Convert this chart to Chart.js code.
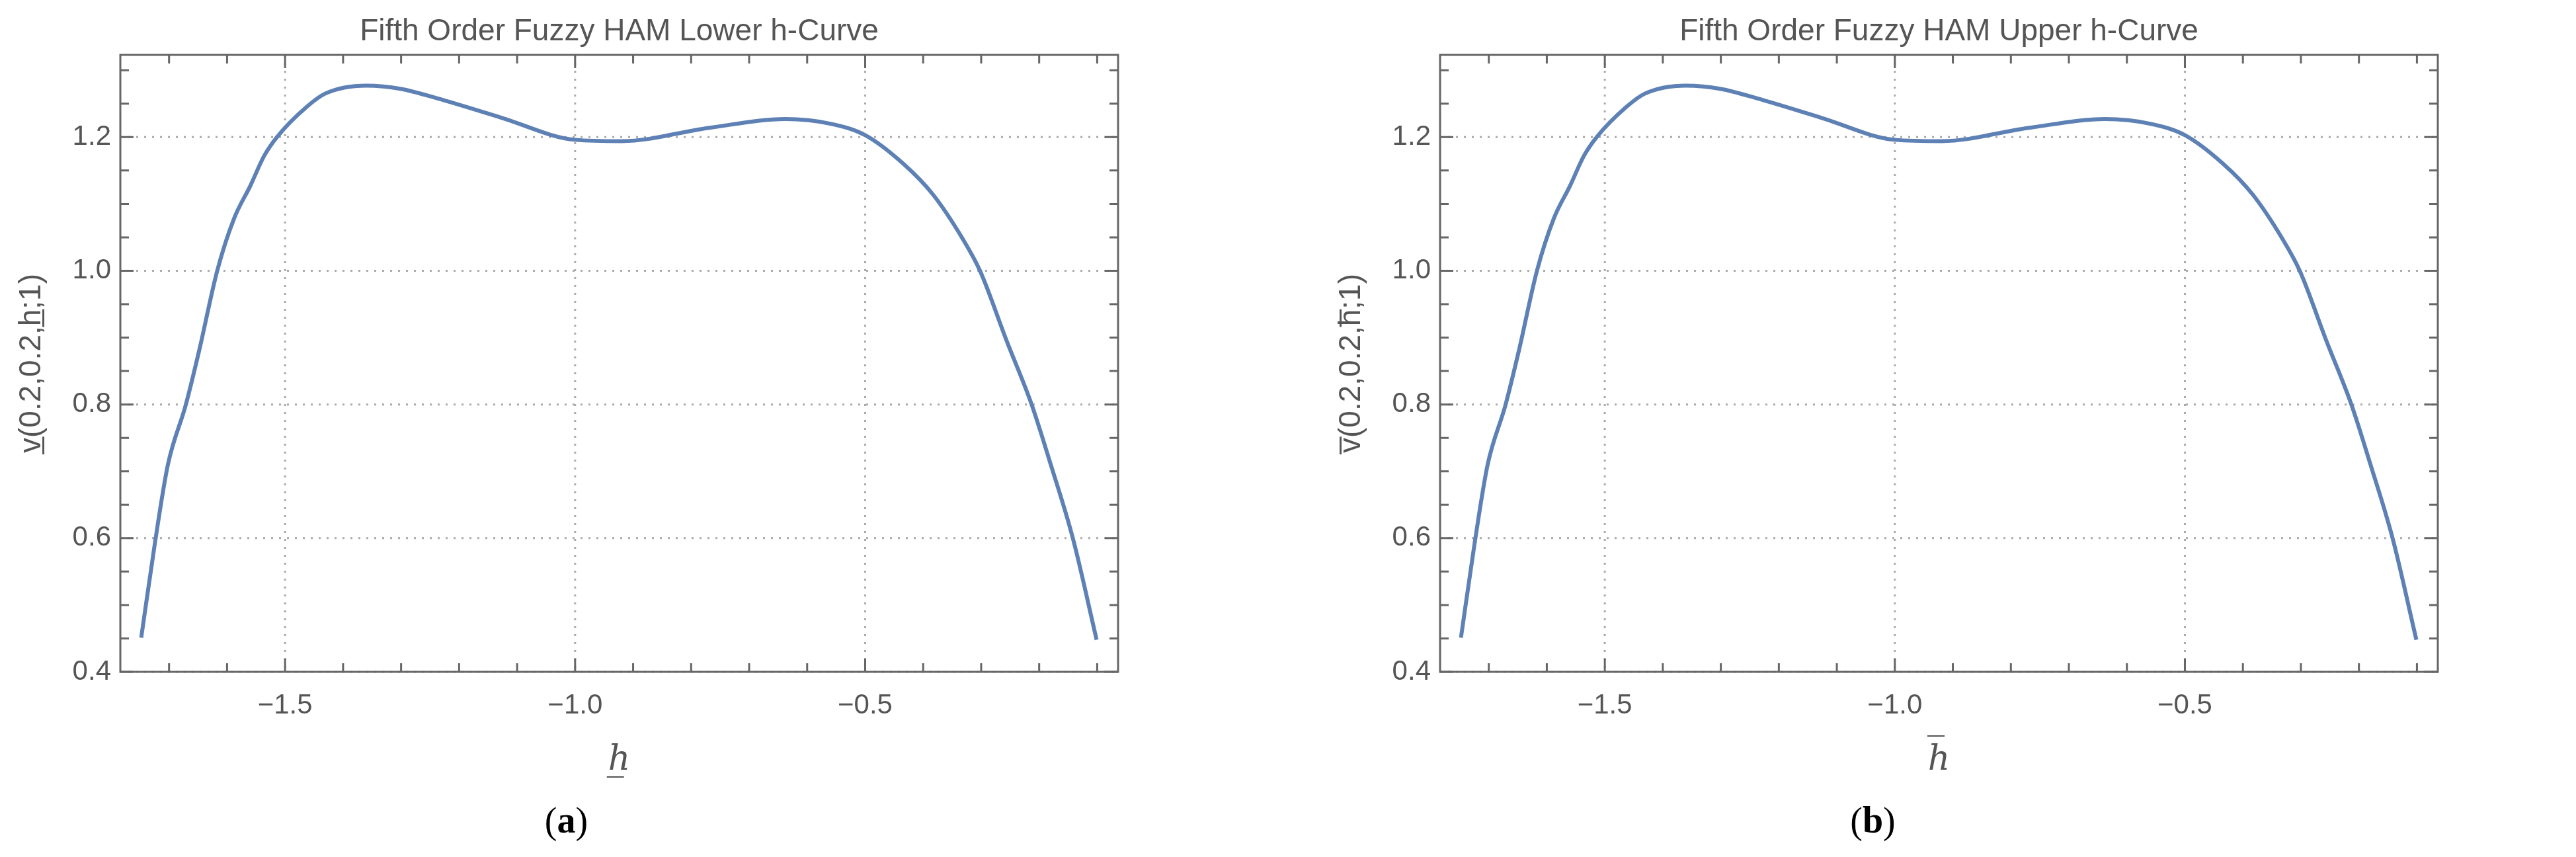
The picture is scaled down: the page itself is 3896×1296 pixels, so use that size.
<!DOCTYPE html>
<html>
<head>
<meta charset="utf-8">
<script src="https://cdn.jsdelivr.net/npm/chart.js@4.4.0/dist/chart.umd.min.js"></script>
<style>
  body { margin: 0; background: #fff; width: 3896px; height: 1296px; position: relative; overflow: hidden; }
  .panel { position: absolute; top: 0; width: 1900px; height: 1296px; }
</style>
</head>
<body>
<div class="panel" style="left:0"><canvas id="lowerChart" width="1900" height="1296"></canvas></div>
<div class="panel" style="left:1996px"><canvas id="upperChart" width="1900" height="1296"></canvas></div>
<script>
// Data
const hValues = [-1.748, -1.724, -1.702, -1.671, -1.648, -1.617, -1.588, -1.56, -1.536, -1.514, -1.463, -1.431, -1.36, -1.3, -1.238, -1.127, -1.0, -0.92, -0.768, -0.637, -0.56, -0.5, -0.434, -0.383, -0.332, -0.302, -0.256, -0.213, -0.18, -0.142, -0.101];
const lowerValues = [0.451, 0.595, 0.71, 0.8, 0.881, 1.0, 1.078, 1.127, 1.172, 1.2, 1.245, 1.265, 1.277, 1.272, 1.258, 1.229, 1.196, 1.194, 1.214, 1.227, 1.22, 1.203, 1.16, 1.114, 1.048, 1.0, 0.895, 0.8, 0.71, 0.6, 0.448];
const upperValues = [0.451, 0.595, 0.71, 0.8, 0.881, 1.0, 1.078, 1.127, 1.172, 1.2, 1.245, 1.265, 1.277, 1.272, 1.258, 1.229, 1.196, 1.194, 1.214, 1.227, 1.22, 1.203, 1.16, 1.114, 1.048, 1.0, 0.895, 0.8, 0.71, 0.6, 0.448];
const xTicks = [-1.5, -1.0, -0.5];
const yTicks = [0.4, 0.6, 0.8, 1.0, 1.2];

const lineColor = '#5E81B5';
const textColor = '#555555';

// Frame, dotted grid, mirrored ticks and the extra labels
const framePlugin = {
  id: 'frame',
  beforeDatasetsDraw(chart, args, opts) {
    const { ctx, chartArea: a, scales: { x, y } } = chart;
    ctx.save();
    ctx.strokeStyle = '#aaaaaa';
    ctx.lineWidth = 3;
    ctx.setLineDash([3, 9]);
    xTicks.forEach(v => {
      const px = x.getPixelForValue(v);
      ctx.beginPath(); ctx.moveTo(px, a.top); ctx.lineTo(px, a.bottom); ctx.stroke();
    });
    yTicks.forEach(v => {
      const py = y.getPixelForValue(v);
      ctx.beginPath(); ctx.moveTo(a.left, py); ctx.lineTo(a.right, py); ctx.stroke();
    });
    ctx.restore();
  },
  afterDraw(chart, args, opts) {
    const { ctx, chartArea: a, scales: { x, y } } = chart;
    ctx.save();
    ctx.strokeStyle = '#666666';
    ctx.lineWidth = 3;
    ctx.setLineDash([]);
    ctx.strokeRect(a.left, a.top, a.right - a.left, a.bottom - a.top);
    // x ticks every 0.1, bigger at 0.5
    for (let i = -17; i <= -1; i++) {
      const px = x.getPixelForValue(i / 10);
      const len = (i % 5 === 0) ? 20 : 13;
      ctx.beginPath();
      ctx.moveTo(px, a.bottom); ctx.lineTo(px, a.bottom - len);
      ctx.moveTo(px, a.top); ctx.lineTo(px, a.top + len);
      ctx.stroke();
    }
    // y ticks every 0.05
    for (let i = 8; i <= 26; i++) {
      const py = y.getPixelForValue(i / 20);
      const len = (i % 4 === 0) ? 20 : 13;
      ctx.beginPath();
      ctx.moveTo(a.left, py); ctx.lineTo(a.left + len, py);
      ctx.moveTo(a.right, py); ctx.lineTo(a.right - len, py);
      ctx.stroke();
    }
    const cx = (a.left + a.right) / 2;
    ctx.fillStyle = textColor;
    ctx.textAlign = 'center';
    ctx.textBaseline = 'middle';
    ctx.font = '46px "Liberation Sans", Arial, sans-serif';
    ctx.fillText(opts.title, cx, 48);
    ctx.font = 'italic 52px "DejaVu Serif", serif';
    ctx.fillText(opts.xLabel, cx, 1150);
    ctx.save();
    ctx.translate(opts.yLabelX, (a.top + a.bottom) / 2);
    ctx.rotate(-Math.PI / 2);
    ctx.font = '46px "Liberation Sans", Arial, sans-serif';
    ctx.fillText(opts.yLabel, 0, 0);
    ctx.restore();
    // caption "(a)" with bold letter
    ctx.fillStyle = '#000';
    ctx.textAlign = 'left';
    const capX = cx + opts.captionShift;
    ctx.font = '56px "Liberation Serif", serif';
    const wOpen = ctx.measureText('(').width;
    const wClose = ctx.measureText(')').width;
    ctx.font = 'bold 56px "Liberation Serif", serif';
    const wL = ctx.measureText(opts.caption).width;
    const sx = capX - (wOpen + wL + wClose) / 2;
    ctx.font = '56px "Liberation Serif", serif';
    ctx.fillText('(', sx, 1245);
    ctx.fillText(')', sx + wOpen + wL, 1245);
    ctx.font = 'bold 56px "Liberation Serif", serif';
    ctx.fillText(opts.caption, sx + wOpen, 1245);
    ctx.restore();
  }
};

function makeChart(id, values, frameOpts) {
  return new Chart(document.getElementById(id).getContext('2d'), {
    type: 'line',
    data: {
      datasets: [{
        data: hValues.map((h, i) => ({ x: h, y: values[i] })),
        borderColor: lineColor,
        borderWidth: 6,
        pointRadius: 0,
        cubicInterpolationMode: 'monotone',
        fill: false
      }]
    },
    options: {
      responsive: false,
      animation: false,
      layout: { padding: { top: 83, right: 209, left: 0, bottom: 0 } },
      plugins: { legend: { display: false }, tooltip: { enabled: false }, frame: frameOpts },
      scales: {
        x: {
          type: 'linear',
          min: -1.784,
          max: -0.064,
          afterBuildTicks: s => { s.ticks = xTicks.map(v => ({ value: v })); },
          afterFit: s => { s.height = 280; },
          grid: { display: false, drawTicks: false },
          border: { display: false },
          ticks: {
            padding: 26,
            color: textColor,
            font: { size: 42, family: '"Liberation Sans", Arial, sans-serif' },
            callback: v => (v < 0 ? '\u2212' : '') + Math.abs(v).toFixed(1)
          }
        },
        y: {
          min: 0.4,
          max: 1.323,
          afterBuildTicks: s => { s.ticks = yTicks.map(v => ({ value: v })); },
          afterFit: s => { s.width = 182; },
          grid: { display: false, drawTicks: false },
          border: { display: false },
          ticks: {
            padding: 14,
            color: textColor,
            font: { size: 42, family: '"Liberation Sans", Arial, sans-serif' },
            callback: v => v.toFixed(1)
          }
        }
      }
    },
    plugins: [framePlugin]
  });
}

makeChart('lowerChart', lowerValues, {
  title: 'Fifth Order Fuzzy HAM Lower h-Curve',
  xLabel: 'h\u0332',
  yLabel: 'v\u0332(0.2,0.2,h\u0332;1)',
  yLabelX: 48,
  caption: 'a',
  captionShift: -80
});
makeChart('upperChart', upperValues, {
  title: 'Fifth Order Fuzzy HAM Upper h-Curve',
  xLabel: 'h\u0305',
  yLabel: 'v\u0305(0.2,0.2,h\u0305;1)',
  yLabelX: 48,
  caption: 'b',
  captionShift: -100
});
</script>
</body>
</html>
